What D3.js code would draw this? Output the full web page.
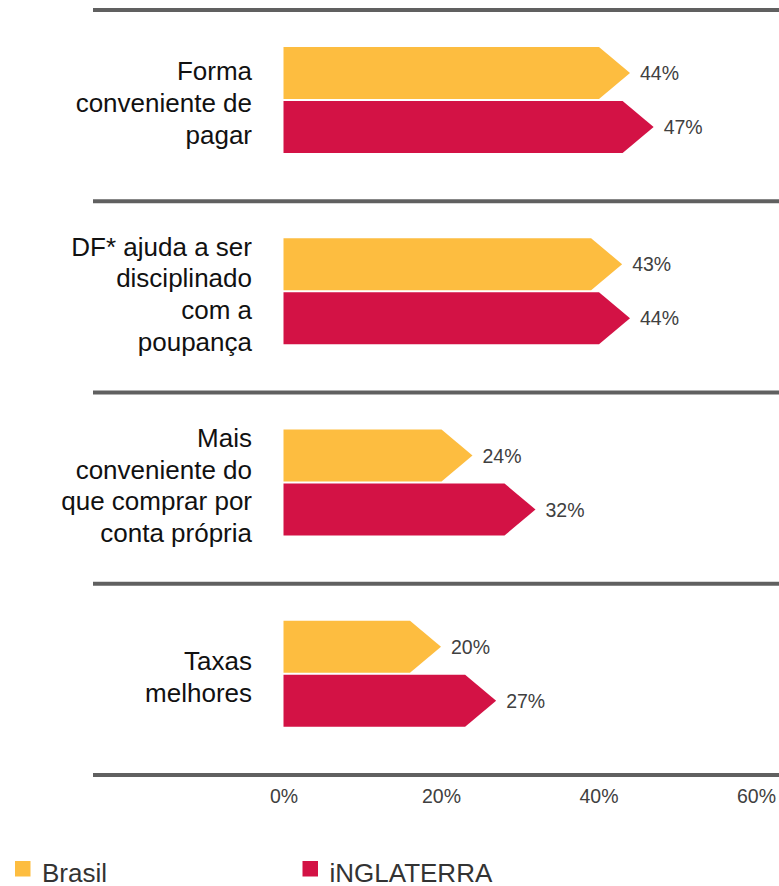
<!DOCTYPE html>
<html>
<head>
<meta charset="utf-8">
<script src="https://cdn.jsdelivr.net/npm/d3@7"></script>
<style>
  body { margin: 0; background: #fff; }
  svg { display: block; font-family: Arial, "Liberation Sans", Helvetica, sans-serif; }
</style>
</head>
<body>
<div id="chart"></div>
<script>
// data
var categories = ["pagar", "poupanca", "comprar", "taxas"];
var categoryLines = [
    ["Forma", "conveniente de", "pagar"],
    ["DF* ajuda a ser", "disciplinado", "com a", "poupança"],
    ["Mais", "conveniente do", "que comprar por", "conta própria"],
    ["Taxas", "melhores"]
];
var brasil     = [44, 43, 24, 20];
var inglaterra = [47, 44, 32, 27];
var seriesNames = ["Brasil", "iNGLATERRA"];
var seriesColors = ["#FDBD40", "#D31245"];
var ticks = [0, 20, 40, 60];

//////////////////////////////////////////////////////////////////////////////

var width = 779, height = 886;
var barH = 52, arrowDepth = 31;
var fontFam = "Arial, 'Liberation Sans', Helvetica, sans-serif";

var svg = d3.select("#chart").append("svg")
    .attr("width", width)
    .attr("height", height);

var x = d3.scaleLinear().domain([0, 60]).range([283.5, 756]);
var y = d3.scaleBand().domain(categories).range([10, 775]);

// separators between the groups
var sepYs = categories.map(function(c) { return y(c); }).concat([y.range()[1]]);
svg.append("g").selectAll("line")
    .data(sepYs)
    .enter().append("line")
    .attr("x1", 93).attr("x2", width + 2)
    .attr("y1", function(d) { return d; })
    .attr("y2", function(d) { return d; })
    .attr("stroke", "#606060")
    .attr("stroke-width", 4);

// arrow-shaped bar: body then a point at the value
function arrowPath(v, top) {
    var x0 = x(0), tip = x(v), body = tip - arrowDepth;
    return "M" + x0 + "," + top +
        " L" + body + "," + top +
        " L" + tip + "," + (top + barH / 2) +
        " L" + body + "," + (top + barH) +
        " L" + x0 + "," + (top + barH) + " Z";
}

var rows = categories.map(function(c, i) {
    return { cat: c, lines: categoryLines[i], values: [brasil[i], inglaterra[i]] };
});

var groups = svg.append("g").selectAll("g")
    .data(rows)
    .enter().append("g")
    .attr("transform", function(d) { return "translate(0," + (y(d.cat) + 90) + ")"; });

[0, 1].forEach(function(s) {
    var top = s === 0 ? -barH - 1 : 1;
    groups.append("path")
        .attr("d", function(d) { return arrowPath(d.values[s], top); })
        .attr("fill", seriesColors[s]);
    groups.append("text")
        .attr("x", function(d) { return x(d.values[s]) + 10; })
        .attr("y", top + barH / 2 + 7)
        .attr("font-size", "19.5px")
        .attr("fill", "#404040")
        .text(function(d) { return d.values[s] + "%"; });
});

// category labels, right aligned, several lines
var lineH = 31.7;
groups.append("text")
    .attr("text-anchor", "end")
    .attr("font-size", "26px")
    .attr("fill", "#111")
    .each(function(d) {
        var first = 12 - (d.lines.length - 1) * lineH / 2;
        d3.select(this).selectAll("tspan")
            .data(d.lines)
            .enter().append("tspan")
            .attr("x", 252)
            .attr("y", function(l, i) { return first + i * lineH; })
            .text(function(l) { return l; });
    });

// x axis labels only
var axis = svg.append("g")
    .attr("transform", "translate(0,775)")
    .call(d3.axisBottom(x).tickValues(ticks).tickSize(0)
        .tickFormat(function(d) { return d + "%"; }));
axis.select(".domain").remove();
axis.selectAll("text")
    .attr("y", 28).attr("dy", 0)
    .attr("font-size", "19.5px")
    .attr("font-family", fontFam)
    .attr("fill", "#404040");

// legend
var legendX = [15, 302.5];
var legend = svg.append("g").selectAll("g")
    .data(seriesNames)
    .enter().append("g")
    .attr("transform", function(d, i) { return "translate(" + legendX[i] + ",861)"; });
legend.append("rect")
    .attr("width", 15.5).attr("height", 15.5)
    .attr("fill", function(d, i) { return seriesColors[i]; });
legend.append("text")
    .attr("x", 27).attr("y", 21)
    .attr("font-size", "26px")
    .attr("fill", "#333")
    .text(function(d) { return d; });
</script>
</body>
</html>
